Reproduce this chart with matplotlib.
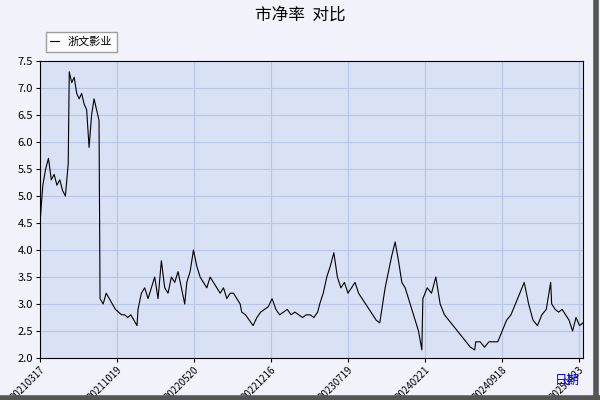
import matplotlib
matplotlib.use("Agg")
import matplotlib.pyplot as plt
import numpy as np

plt.rcParams['font.family'] = ['Noto Sans CJK SC', 'DejaVu Sans']

segments = [
 [4.5,5.2,5.5,5.7,5.3,5.4,5.2,5.3,5.1,5.0,5.6],
 [7.3,7.1,7.2,6.9,6.8,6.9,6.7,6.6,5.9,6.5,6.8,6.6,6.4],
 [3.1,3.0,3.2,3.1,3.0,2.9,2.85,2.8,2.8,2.75,2.8,2.7,2.6],
 [2.9,3.2,3.3,3.1,3.3,3.5,3.1,3.8,3.3,3.2,3.5,3.4,3.6,3.3,3.0],
 [3.4,3.6,4.0,3.7,3.5,3.4,3.3,3.5,3.4,3.3,3.2,3.3,3.1,3.2,3.2,3.1,3.0],
 [2.85,2.8,2.7,2.6,2.75,2.85,2.9,2.95,3.1,2.9,2.8,2.85,2.9,2.8,2.85,2.8,2.75,2.8,2.8,2.75,2.85],
 [3.0,3.2,3.5,3.7,3.95,3.5,3.3,3.4,3.2,3.3,3.4,3.2,3.1,3.0,2.9,2.8,2.7,2.65],
 [2.9,3.3,3.6,3.9,4.15,3.8,3.4,3.3,3.1,2.9,2.7,2.5,2.15],
 [3.1,3.3,3.2,3.5,3.0,2.8,2.7,2.6,2.5,2.4,2.3,2.2,2.15],
 [2.3,2.3,2.2,2.3,2.3,2.3,2.5,2.7,2.8,3.0,3.2,3.4,3.0,2.7,2.6,2.8,2.9,3.4],
 [3.0,2.9,2.85,2.9,2.8,2.7,2.5,2.75,2.6,2.65],
]
seg_start_day = [0, 57, 117, 191, 286, 393, 545, 666, 746, 849, 997]
seg_end_day   = [55, 115, 189, 282, 390, 541, 662, 744, 847, 995, 1058]
tick_labels = ['20210317','20211019','20220520','20221216','20230719','20240221','20240918','20250423']

xs, ys = [], []
for vals, a, b in zip(segments, seg_start_day, seg_end_day):
    xs.extend(np.linspace(a, b, len(vals)))
    ys.extend(vals)
span = 1058

fig = plt.figure(figsize=(6, 4), dpi=100, facecolor='#f2f2fa')
ax = fig.add_axes([40/600, 1-358/400, 543/600, 297/400])
ax.set_facecolor('#d9e1f5')
ax.plot(xs, ys, color='black', lw=0.8, label='浙文影业')
ax.set_xlim(0, span)
ax.set_ylim(2.0, 7.5)
yt = np.arange(2.0, 7.51, 0.5)
ax.set_yticks(yt)
ax.set_yticklabels([f'{v:.1f}' for v in yt], fontsize=8)
ax.set_xticks(np.arange(0, 1051, 150))
ax.set_xticklabels(tick_labels, rotation=45, fontsize=7, ha='right', va='top', rotation_mode='anchor')
ax.grid(True, color='#b8c4e8', lw=0.8)
for s in ax.spines.values():
    s.set_color('black')
ax.tick_params(length=3, pad=2)
fig.text(300/600, 1-15/400, '市净率  对比', ha='center', va='center', fontsize=12)
fig.text(567/600, 1-380/400, '日期', color='blue', ha='center', va='center', fontsize=9)
ax.legend(loc='upper left', bbox_to_anchor=(0, 1.115), fontsize=8, frameon=True,
          fancybox=False, edgecolor='#888888', handlelength=0.8, borderpad=0.4)
fig.add_artist(plt.Line2D([596/600, 596/600], [0, 1], color='#555555', lw=4))
fig.add_artist(plt.Line2D([0, 1], [2/400, 2/400], color='#555555', lw=4))
fig.savefig('out.png', facecolor=fig.get_facecolor())
